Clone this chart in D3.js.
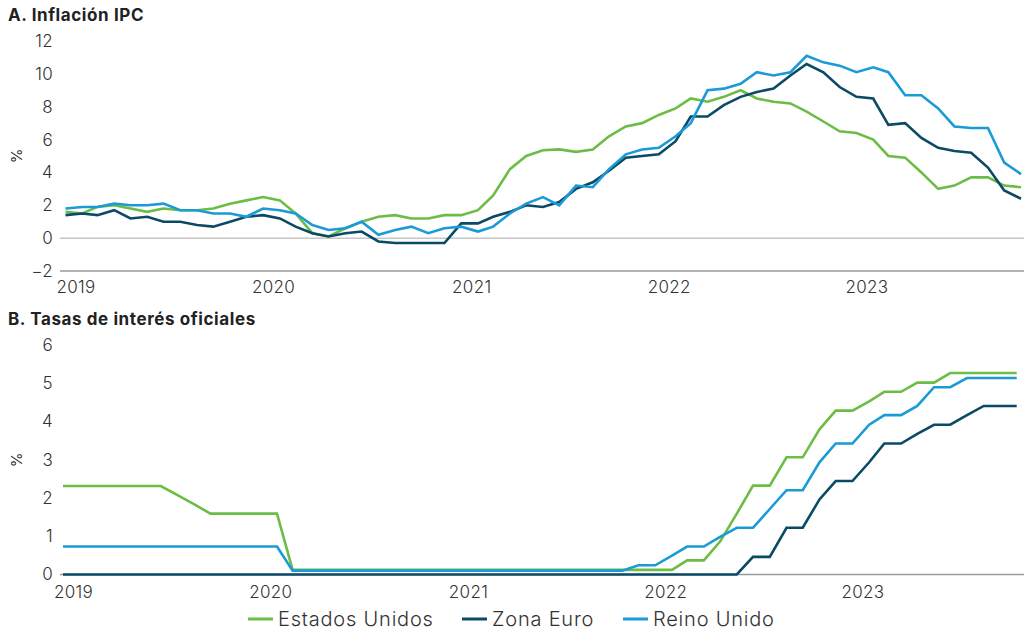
<!DOCTYPE html>
<html>
<head>
<meta charset="utf-8">
<script src="https://cdn.jsdelivr.net/npm/d3@7"></script>
<style>
  body { margin: 0; background: #fff; }
  svg { display: block; font-family: Inter, "Open Sans", sans-serif; }
  .tick text { fill: #333; font-weight: 300; }
</style>
</head>
<body>
<svg id="drawing_region"></svg>
<script>
// months Jan 2019 .. Nov 2023
const months = d3.timeMonth.range(new Date(2019, 0, 1), new Date(2023, 11, 1));
const years = [2019, 2020, 2021, 2022, 2023];
const series_names = ['Estados Unidos', 'Zona Euro', 'Reino Unido'];
const colors = ['#6cbd45', '#0b4a66', '#1a9bd7'];

// A. Inflación IPC (% a/a)
const ipc_us = [
  1.6, 1.5, 1.9, 2.0, 1.8, 1.6, 1.8, 1.7, 1.7, 1.8, 2.1, 2.3,
  2.5, 2.3, 1.5, 0.3, 0.1, 0.6, 1.0, 1.3, 1.4, 1.2, 1.2, 1.4,
  1.4, 1.7, 2.6, 4.2, 5.0, 5.35, 5.4, 5.25, 5.4, 6.2, 6.8, 7.0,
  7.5, 7.9, 8.5, 8.3, 8.6, 9.0, 8.5, 8.3, 8.2, 7.7, 7.1, 6.5,
  6.4, 6.0, 5.0, 4.9, 4.0, 3.0, 3.2, 3.7, 3.7, 3.2, 3.1
];
const ipc_ez = [
  1.4, 1.5, 1.4, 1.7, 1.2, 1.3, 1.0, 1.0, 0.8, 0.7, 1.0, 1.3,
  1.4, 1.2, 0.7, 0.3, 0.1, 0.3, 0.4, -0.2, -0.3, -0.3, -0.3, -0.3,
  0.9, 0.9, 1.3, 1.6, 2.0, 1.9, 2.2, 3.0, 3.4, 4.1, 4.9, 5.0,
  5.1, 5.9, 7.4, 7.4, 8.1, 8.6, 8.9, 9.1, 9.9, 10.6, 10.1, 9.2,
  8.6, 8.5, 6.9, 7.0, 6.1, 5.5, 5.3, 5.2, 4.3, 2.9, 2.4
];
const ipc_uk = [
  1.8, 1.9, 1.9, 2.1, 2.0, 2.0, 2.1, 1.7, 1.7, 1.5, 1.5, 1.3,
  1.8, 1.7, 1.5, 0.8, 0.5, 0.6, 1.0, 0.2, 0.5, 0.7, 0.3, 0.6,
  0.7, 0.4, 0.7, 1.5, 2.1, 2.5, 2.0, 3.2, 3.1, 4.2, 5.1, 5.4,
  5.5, 6.2, 7.0, 9.0, 9.1, 9.4, 10.1, 9.9, 10.1, 11.1, 10.7, 10.5,
  10.1, 10.4, 10.1, 8.7, 8.7, 7.9, 6.8, 6.7, 6.7, 4.6, 3.9
];

// B. Tasas de interés oficiales (%)
const tasa_us = [
  2.31, 2.31, 2.31, 2.31, 2.31, 2.31, 2.31, 2.07, 1.83, 1.59, 1.59, 1.59,
  1.59, 1.59, 0.12, 0.12, 0.12, 0.12, 0.12, 0.12, 0.12, 0.12, 0.12, 0.12,
  0.12, 0.12, 0.12, 0.12, 0.12, 0.12, 0.12, 0.12, 0.12, 0.12, 0.12, 0.12,
  0.12, 0.12, 0.37, 0.37, 0.86, 1.59, 2.32, 2.32, 3.06, 3.06, 3.79, 4.28,
  4.28, 4.52, 4.77, 4.77, 5.01, 5.01, 5.26, 5.26, 5.26, 5.26, 5.26
];
const tasa_ez = [
  0, 0, 0, 0, 0, 0, 0, 0, 0, 0, 0, 0,
  0, 0, 0, 0, 0, 0, 0, 0, 0, 0, 0, 0,
  0, 0, 0, 0, 0, 0, 0, 0, 0, 0, 0, 0,
  0, 0, 0, 0, 0, 0, 0.46, 0.46, 1.22, 1.22, 1.96, 2.44,
  2.44, 2.93, 3.42, 3.42, 3.67, 3.91, 3.91, 4.16, 4.4, 4.4, 4.4
];
const tasa_uk = [
  0.73, 0.73, 0.73, 0.73, 0.73, 0.73, 0.73, 0.73, 0.73, 0.73, 0.73, 0.73,
  0.73, 0.73, 0.1, 0.1, 0.1, 0.1, 0.1, 0.1, 0.1, 0.1, 0.1, 0.1,
  0.1, 0.1, 0.1, 0.1, 0.1, 0.1, 0.1, 0.1, 0.1, 0.1, 0.1, 0.24,
  0.24, 0.49, 0.73, 0.73, 0.98, 1.22, 1.22, 1.71, 2.2, 2.2, 2.93, 3.42,
  3.42, 3.91, 4.16, 4.16, 4.4, 4.89, 4.89, 5.13, 5.13, 5.13, 5.13
];

const ticks_a = [-2, 0, 2, 4, 6, 8, 10, 12];
const ticks_b = [0, 1, 2, 3, 4, 5, 6];

const svg = d3.select('#drawing_region')
    .attr('width', 1024)
    .attr('height', 631);

class LinePanel {
    constructor( config, series ) {
        this.config = config;
        this.series = series;
        this.init();
    }

    init() {
        let self = this;
        const c = self.config;

        self.g = svg.append('g');

        self.xscale = d3.scaleTime()
            .domain([months[0], months[months.length - 1]])
            .range([c.x0, c.x1]);

        self.yscale = d3.scaleLinear()
            .domain(c.ydomain)
            .range([c.ybottom, c.ytop]);

        // title
        self.g.append('text')
            .attr('x', 8)
            .attr('y', c.title_y)
            .attr('font-size', '17px')
            .attr('font-weight', 700)
            .attr('letter-spacing', '0.6px')
            .attr('fill', '#222')
            .text(c.title);

        // % label
        self.g.append('text')
            .attr('transform', `translate(22, ${c.pct_y}) rotate(-90)`)
            .attr('text-anchor', 'middle')
            .attr('font-size', '15px')
            .attr('fill', '#333')
            .text('%');

        // zero line (panel A only)
        if (c.ydomain[0] < 0) {
            self.g.append('line')
                .attr('x1', 60).attr('x2', 1024)
                .attr('y1', self.yscale(0)).attr('y2', self.yscale(0))
                .attr('stroke', '#c6c6c6')
                .attr('stroke-width', 1.5);
        }

        // bottom axis line
        self.g.append('line')
            .attr('x1', 60).attr('x2', 1024)
            .attr('y1', c.ybottom).attr('y2', c.ybottom)
            .attr('stroke', '#9a9a9a')
            .attr('stroke-width', 1.5);

        const yaxis = d3.axisLeft(self.yscale)
            .tickValues(c.yticks)
            .tickFormat(d3.format('d'))
            .tickSize(0)
            .tickPadding(0);

        self.g.append('g')
            .attr('transform', 'translate(53, 0)')
            .call(yaxis)
            .call(g => g.select('.domain').remove())
            .selectAll('text')
            .attr('font-size', '17px')
            .attr('letter-spacing', '0.3px')
            .attr('font-family', 'Inter, sans-serif');

        const xaxis = d3.axisBottom(self.xscale)
            .tickValues(years.map(y => new Date(y, 0, 1)))
            .tickFormat(d3.timeFormat('%Y'))
            .tickSize(0)
            .tickPadding(0);

        self.g.append('g')
            .attr('transform', `translate(10, ${c.xlabel_y})`)
            .call(xaxis)
            .call(g => g.select('.domain').remove())
            .selectAll('text')
            .attr('font-size', '17px')
            .attr('letter-spacing', '0.3px')
            .attr('font-family', 'Inter, sans-serif')
            .attr('dy', '0.35em');
    }

    render() {
        let self = this;
        const line = d3.line()
            .x((d, i) => self.xscale(months[i]))
            .y(d => self.yscale(d));

        self.g.selectAll('path.series')
            .data(self.series)
            .join('path')
            .attr('class', 'series')
            .attr('fill', 'none')
            .attr('stroke', (d, i) => colors[i])
            .attr('stroke-width', 2.6)
            .attr('d', d => line(d));
    }
}

const panel_a = new LinePanel({
    title: 'A. Inflación IPC', title_y: 21,
    x0: 65.5, x1: 1021,
    ydomain: [-2, 12], ybottom: 271, ytop: 41, yticks: ticks_a,
    xlabel_y: 287, pct_y: 156
}, [ipc_us, ipc_ez, ipc_uk]);
panel_a.render();

const panel_b = new LinePanel({
    title: 'B. Tasas de interés oficiales', title_y: 325,
    x0: 63, x1: 1016.7,
    ydomain: [0, 6], ybottom: 574.5, ytop: 344.7, yticks: ticks_b,
    xlabel_y: 592, pct_y: 460
}, [tasa_us, tasa_ez, tasa_uk]);
panel_b.render();

// legend
const legend_x = [248, 462, 623];
const legend = svg.append('g').attr('transform', 'translate(0, 619)');
series_names.forEach((name, i) => {
    legend.append('line')
        .attr('x1', legend_x[i]).attr('x2', legend_x[i] + 25)
        .attr('y1', 0).attr('y2', 0)
        .attr('stroke', colors[i])
        .attr('stroke-width', 3);
    legend.append('text')
        .attr('x', legend_x[i] + 30)
        .attr('y', 0)
        .attr('dy', '0.35em')
        .attr('font-size', '20px')
        .attr('font-weight', 300)
        .attr('letter-spacing', '0.8px')
        .attr('fill', '#333')
        .text(name);
});
</script>
</body>
</html>
